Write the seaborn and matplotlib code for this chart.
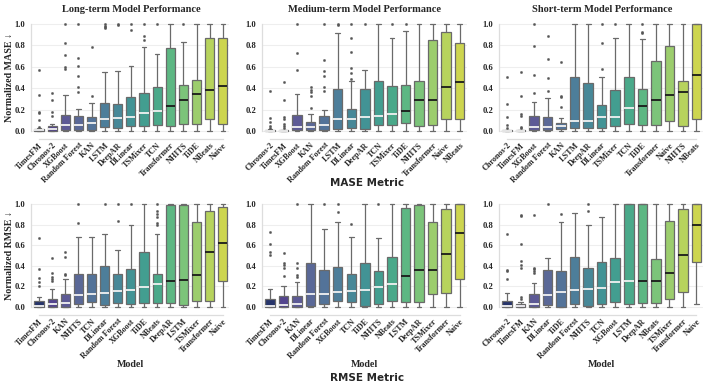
import numpy as np
import pandas as pd
import matplotlib
matplotlib.use("Agg")
import matplotlib.pyplot as plt
import seaborn as sns

# ---------------- data ----------------
# Long-term, MASE
LT_MASE_MODELS = ["TimesFM", "Chronos-2", "XGBoost", "Random Forest", "KAN", "LSTM", "DeepAR", "DLinear",
                  "TSMixer", "TCN", "Transformer", "NHITS", "TiDE", "NBeats", "Naive"]
LT_MASE_LO = [0, 0, 0, 0, 0, 0, 0, 0, 0, 0, 0, 0, 0, 0, 0]
LT_MASE_Q1 = [0.0, 0.003, 0.006, 0.006, 0.012, 0.037, 0.031, 0.044, 0.050, 0.053, 0.047, 0.069, 0.062, 0.109, 0.062]
LT_MASE_MED = [0.005, 0.015, 0.053, 0.059, 0.075, 0.115, 0.120, 0.131, 0.165, 0.187, 0.230, 0.287, 0.346, 0.383, 0.424]
LT_MASE_Q3 = [0.015, 0.044, 0.153, 0.143, 0.128, 0.260, 0.255, 0.321, 0.352, 0.408, 0.773, 0.430, 0.473, 0.866, 0.866]
LT_MASE_HI = [0.025, 0.065, 0.333, 0.206, 0.260, 0.548, 0.557, 0.604, 0.785, 0.720, 1.0, 0.829, 1.0, 1.0, 1.0]
LT_MASE_OUT = [[0.04, 0.106, 0.168, 0.18, 0.336, 0.573], [0.137, 0.178, 0.287, 0.355],
               [0.58, 0.60, 0.71, 0.82, 1.0], [0.36, 0.41, 0.51, 0.61, 0.68, 1.0], [0.33, 0.785],
               [0.96, 0.97, 0.985, 1.0], [0.995, 1.0], [0.947, 1.0], [0.85, 0.89, 1.0], [1.0],
               [], [1.0], [], [], []]

# Medium-term, MASE
MT_MASE_MODELS = ["Chronos-2", "TimesFM", "XGBoost", "KAN", "Random Forest", "LSTM", "DLinear", "DeepAR",
                  "TCN", "TSMixer", "TiDE", "NHITS", "Transformer", "Naive", "NBeats"]
MT_MASE_LO = [0, 0, 0, 0, 0, 0, 0, 0, 0, 0, 0, 0, 0, 0, 0]
MT_MASE_Q1 = [0.0, 0.0, 0.006, 0.009, 0.006, 0.022, 0.025, 0.022, 0.059, 0.053, 0.072, 0.044, 0.059, 0.115, 0.115]
MT_MASE_MED = [0.003, 0.002, 0.034, 0.034, 0.056, 0.115, 0.115, 0.134, 0.137, 0.156, 0.184, 0.287, 0.287, 0.414, 0.455]
MT_MASE_Q3 = [0.010, 0.006, 0.153, 0.087, 0.137, 0.393, 0.206, 0.393, 0.464, 0.417, 0.433, 0.467, 0.850, 0.928, 0.822]
MT_MASE_HI = [0.020, 0.012, 0.343, 0.162, 0.193, 0.919, 0.464, 0.567, 1.0, 0.866, 0.935, 1.0, 1.0, 1.0, 1.0]
MT_MASE_OUT = [[0.03, 0.05, 0.08, 0.12, 0.37], [0.028, 0.044, 0.069, 0.112, 0.128, 0.293, 0.455],
               [0.573, 0.73, 1.0], [0.215, 0.327, 0.364, 0.386, 0.408], [0.37, 0.408, 0.517, 0.564, 0.667, 1.0],
               [0.995, 1.0], [0.49, 0.542, 0.589, 0.741, 0.872, 1.0], [1.0], [], [1.0], [1.0], [], [], [], []]

# Short-term, MASE
ST_MASE_MODELS = ["Chronos-2", "TimesFM", "XGBoost", "Random Forest", "KAN", "LSTM", "DeepAR", "DLinear",
                  "TSMixer", "TCN", "TiDE", "Transformer", "Naive", "NHITS", "NBeats"]
ST_MASE_LO = [0, 0, 0, 0, 0, 0, 0, 0, 0, 0, 0, 0, 0, 0, 0]
ST_MASE_Q1 = [0.0, 0.0, 0.009, 0.006, 0.016, 0.025, 0.025, 0.025, 0.044, 0.069, 0.056, 0.053, 0.090, 0.050, 0.115]
ST_MASE_MED = [0.002, 0.002, 0.034, 0.037, 0.044, 0.093, 0.093, 0.131, 0.131, 0.218, 0.231, 0.293, 0.336, 0.364, 0.520]
ST_MASE_Q3 = [0.005, 0.006, 0.143, 0.131, 0.075, 0.505, 0.445, 0.246, 0.383, 0.502, 0.389, 0.657, 0.794, 0.467, 1.0]
ST_MASE_HI = [0.010, 0.012, 0.271, 0.308, 0.125, 1.0, 1.0, 0.502, 0.872, 1.0, 0.863, 1.0, 1.0, 1.0, 1.0]
ST_MASE_OUT = [[0.028, 0.053, 0.128, 0.252, 0.505], [0.025, 0.037, 0.14, 0.156, 0.327, 0.548],
               [0.355, 0.526, 0.794, 1.0], [0.377, 0.495, 0.673, 0.89], [0.224, 0.315, 0.324, 0.642],
               [], [], [0.583, 0.822, 1.0], [1.0], [], [0.913, 0.93, 1.0], [], [], [], []]

# Long-term, RMSE
LT_RMSE_MODELS = ["TimesFM", "Chronos-2", "KAN", "NHITS", "TCN", "DLinear", "Random Forest", "XGBoost",
                  "TiDE", "NBeats", "DeepAR", "LSTM", "TSMixer", "Transformer", "Naive"]
LT_RMSE_LO = [0, 0, 0, 0, 0, 0, 0, 0, 0, 0, 0, 0, 0, 0, 0]
LT_RMSE_Q1 = [0.0, 0.003, 0.003, 0.026, 0.052, 0.023, 0.036, 0.032, 0.042, 0.042, 0.036, 0.023, 0.058, 0.058, 0.249]
LT_RMSE_MED = [0.010, 0.032, 0.042, 0.117, 0.129, 0.139, 0.155, 0.168, 0.191, 0.220, 0.249, 0.265, 0.307, 0.531, 0.618]
LT_RMSE_Q3 = [0.058, 0.081, 0.123, 0.320, 0.320, 0.401, 0.324, 0.369, 0.537, 0.317, 0.990, 0.990, 0.822, 0.935, 0.968]
LT_RMSE_HI = [0.094, 0.172, 0.272, 0.676, 0.683, 0.706, 0.553, 0.796, 1.0, 0.709, 1.0, 1.0, 1.0, 1.0, 1.0]
LT_RMSE_OUT = [[0.204, 0.246, 0.282, 0.372, 0.673], [0.256, 0.269, 0.294, 0.333, 0.479],
               [0.31, 0.32, 0.482, 0.531], [0.819, 1.0], [], [1.0], [0.835, 1.0], [1.0], [],
               [0.80, 0.82, 0.87, 0.90, 0.93, 1.0], [], [], [], [], []]

# Medium-term, RMSE
MT_RMSE_MODELS = ["TimesFM", "Chronos-2", "KAN", "DLinear", "Random Forest", "XGBoost", "TCN", "TiDE",
                  "NHITS", "NBeats", "LSTM", "DeepAR", "TSMixer", "Transformer", "Naive"]
MT_RMSE_LO = [0, 0, 0, 0, 0, 0, 0, 0, 0, 0, 0, 0, 0, 0, 0]
MT_RMSE_Q1 = [0.0, 0.003, 0.003, 0.010, 0.032, 0.061, 0.052, 0.013, 0.026, 0.058, 0.052, 0.052, 0.123, 0.139, 0.275]
MT_RMSE_MED = [0.010, 0.016, 0.026, 0.123, 0.129, 0.146, 0.155, 0.162, 0.191, 0.220, 0.298, 0.356, 0.356, 0.515, 0.715]
MT_RMSE_Q3 = [0.074, 0.110, 0.107, 0.427, 0.362, 0.385, 0.317, 0.424, 0.353, 0.482, 0.961, 0.994, 0.825, 0.948, 1.0]
MT_RMSE_HI = [0.172, 0.207, 0.246, 1.0, 0.754, 0.828, 0.676, 1.0, 0.667, 1.0, 1.0, 1.0, 1.0, 1.0, 1.0]
MT_RMSE_OUT = [[0.505, 0.537, 0.615, 0.731], [0.301, 0.379, 0.405, 0.424, 0.521],
               [0.294, 0.314, 0.382, 0.424, 1.0], [], [1.0], [0.919, 1.0], [0.806], [], [1.0],
               [], [], [], [], [], []]

# Short-term, RMSE
ST_RMSE_MODELS = ["Chronos-2", "TimesFM", "KAN", "DLinear", "TiDE", "Random Forest", "NHITS", "TCN",
                  "XGBoost", "LSTM", "DeepAR", "NBeats", "TSMixer", "Transformer", "Naive"]
ST_RMSE_LO = [0, 0, 0, 0, 0, 0, 0, 0, 0, 0, 0, 0, 0, 0, 0.029]
ST_RMSE_Q1 = [0.0, 0.0, 0.003, 0.023, 0.003, 0.032, 0.010, 0.032, 0.052, 0.032, 0.036, 0.036, 0.074, 0.146, 0.434]
ST_RMSE_MED = [0.010, 0.006, 0.026, 0.113, 0.146, 0.162, 0.172, 0.188, 0.240, 0.249, 0.249, 0.249, 0.330, 0.505, 0.796]
ST_RMSE_Q3 = [0.058, 0.029, 0.123, 0.356, 0.350, 0.489, 0.375, 0.434, 0.476, 1.0, 1.0, 0.463, 0.838, 0.948, 1.0]
ST_RMSE_HI = [0.136, 0.045, 0.230, 0.472, 0.822, 0.916, 0.793, 0.871, 1.0, 1.0, 1.0, 1.0, 1.0, 1.0, 1.0]
ST_RMSE_OUT = [[0.275, 0.346, 0.359, 0.712], [0.078, 0.094, 0.375, 0.408, 0.45, 0.615, 0.88, 0.896],
               [0.327, 0.346, 0.366, 0.382, 0.89], [1.0], [0.903], [], [0.932, 1.0], [], [], [],
               [], [], [], [], []]

TITLES = ["Long-term Model Performance", "Medium-term Model Performance", "Short-term Model Performance"]
Y_TICKS = [0.0, 0.2, 0.4, 0.6, 0.8, 1.0]

# ---------------- style ----------------
PALETTE = ["#26346a", "#54458f", "#5d5a96", "#5a6897", "#537399", "#4d7e9a", "#478898", "#429395",
           "#439e90", "#4aa98a", "#5db783", "#7cc47a", "#9ccd6d", "#b7d35d", "#cdd54f"]

sns.set_style("white")
SERIF = ["Liberation Serif", "DejaVu Serif"]
plt.rcParams["font.family"] = SERIF
plt.rcParams["font.weight"] = "bold"


def build_sample(lo, q1, med, q3, hi, outs):
    """Points whose quartiles/whiskers/outliers reproduce the read summary."""
    k = len(outs)
    m = k + 1
    vals = [lo] + [q1] * m + [med] * m + [q3] * m + [hi] * (m - k) + sorted(outs)
    return vals


def draw(ax, models, lo, q1, med, q3, hi, outs):
    rows = []
    for i, name in enumerate(models):
        for v in build_sample(lo[i], q1[i], med[i], q3[i], hi[i], outs[i]):
            rows.append((name, v))
    df = pd.DataFrame(rows, columns=["Model", "value"])
    pal = {name: PALETTE[i] for i, name in enumerate(models)}
    common = dict(x="Model", y="value", hue="Model", order=models, hue_order=models,
                  palette=pal, saturation=1, width=0.7, linewidth=0.9, linecolor="#6a6a6a",
                  legend=False, ax=ax, whis=1.5,
                  flierprops=dict(marker="o", markersize=1.6, markerfacecolor="#555555",
                                  markeredgecolor="#555555", markeredgewidth=0.3))
    dark = models[:10]
    light = models[10:]
    sns.boxplot(data=df[df["Model"].isin(dark)],
                medianprops=dict(color="#f2f2f2", linewidth=1.3), **common)
    sns.boxplot(data=df[df["Model"].isin(light)],
                medianprops=dict(color="#1a1a1a", linewidth=1.3), **common)

    ax.set_ylim(-0.02, 1.02)
    ax.set_xlim(-0.5, len(models) - 0.5)
    ax.set_yticks(Y_TICKS)
    ax.set_xticks(range(len(models)))
    ax.yaxis.grid(True, color="#eeeeee", linewidth=0.8)
    ax.xaxis.grid(False)
    ax.set_axisbelow(True)
    ax.axhline(0, color="#c8c8c8", linestyle="--", linewidth=0.7, zorder=0)
    ax.set_xlabel("")
    ax.set_ylabel("")
    sns.despine(ax=ax, trim=True, offset={"bottom": 4, "left": 1})
    for sp in ("left", "bottom"):
        ax.spines[sp].set_color("#dddddd")
        ax.spines[sp].set_linewidth(0.9)
    ax.set_yticks(Y_TICKS)
    ax.set_yticklabels([f"{t:.1f}" for t in Y_TICKS], fontsize=6.2, fontweight="bold", family=SERIF)
    ax.set_xticks(range(len(models)))
    ax.set_xticklabels(models, rotation=45, ha="right", rotation_mode="anchor",
                       fontsize=5.9, fontweight="bold", family=SERIF)
    ax.tick_params(axis="x", length=0, pad=2)
    ax.tick_params(axis="y", length=0, pad=4)


fig = plt.figure(figsize=(7.09, 3.9), dpi=100)
W, H = 709.0, 390.0
lefts = [32.4, 263.2, 500.2]
widths = [197.0, 203.3, 203.0]
top_row = (22.0, 133.0)
bot_row = (202.0, 309.0)

panels = [
    (LT_MASE_MODELS, LT_MASE_LO, LT_MASE_Q1, LT_MASE_MED, LT_MASE_Q3, LT_MASE_HI, LT_MASE_OUT),
    (MT_MASE_MODELS, MT_MASE_LO, MT_MASE_Q1, MT_MASE_MED, MT_MASE_Q3, MT_MASE_HI, MT_MASE_OUT),
    (ST_MASE_MODELS, ST_MASE_LO, ST_MASE_Q1, ST_MASE_MED, ST_MASE_Q3, ST_MASE_HI, ST_MASE_OUT),
    (LT_RMSE_MODELS, LT_RMSE_LO, LT_RMSE_Q1, LT_RMSE_MED, LT_RMSE_Q3, LT_RMSE_HI, LT_RMSE_OUT),
    (MT_RMSE_MODELS, MT_RMSE_LO, MT_RMSE_Q1, MT_RMSE_MED, MT_RMSE_Q3, MT_RMSE_HI, MT_RMSE_OUT),
    (ST_RMSE_MODELS, ST_RMSE_LO, ST_RMSE_Q1, ST_RMSE_MED, ST_RMSE_Q3, ST_RMSE_HI, ST_RMSE_OUT),
]

for idx, p in enumerate(panels):
    r, c = divmod(idx, 3)
    ytop, ybot = top_row if r == 0 else bot_row
    ax = fig.add_axes([lefts[c] / W, (H - ybot) / H, widths[c] / W, (ybot - ytop) / H])
    draw(ax, *p)
    if r == 0:
        ax.set_title(TITLES[c], fontsize=7.5, fontweight="bold", family=SERIF, pad=7)
    else:
        ax.set_xlabel("Model", fontsize=7.2, fontweight="bold", family=SERIF)
        ax.xaxis.set_label_coords(0.5, (309 - 360) / 107.0)
    if c == 0:
        ax.set_ylabel("Normalized MASE ↓" if r == 0 else "Normalized RMSE ↓",
                      fontsize=7.2, fontweight="bold", family=SERIF)
        ax.yaxis.set_label_coords((14 - lefts[0]) / widths[0], 0.5)

fig.text(367 / W, 1 - 183 / H, "MASE Metric", ha="center", va="center",
         fontsize=7.5, fontweight="bold", family="DejaVu Sans")
fig.text(367 / W, 1 - 378 / H, "RMSE Metric", ha="center", va="center",
         fontsize=7.5, fontweight="bold", family="DejaVu Sans")

fig.savefig("out.png", dpi=100, facecolor="white")
